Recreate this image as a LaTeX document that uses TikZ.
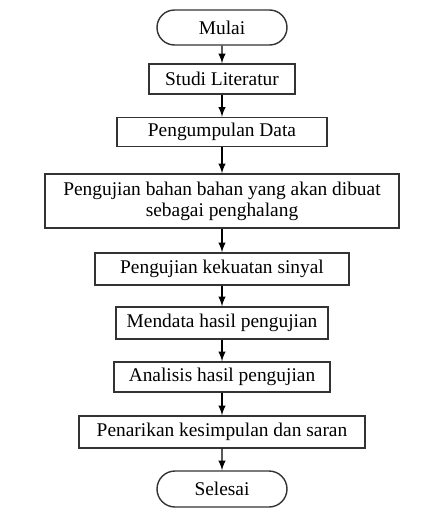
\documentclass[tikz,border=0pt]{standalone}
\usepackage{fontspec}
\setmainfont{Liberation Serif}
\usepackage{tikz}
\usetikzlibrary{arrows,shapes.misc}

\begin{document}
\begin{tikzpicture}[x=0.5pt,y=-0.5pt,
  every node/.style={font=\fontsize{9.7}{10.6}\selectfont, draw=black!80, line width=0.7pt, inner sep=0pt, align=center},
  terminal/.style={rounded rectangle, minimum width=65pt, minimum height=17.5pt},
  proses/.style={rectangle, minimum height=15pt},
  alur/.style={-latex, line width=0.7pt}]
\useasboundingbox (0,0) rectangle (446,525);
\node[terminal] (mulai) at (222,27.5) {Mulai};
\node[proses, minimum width=73pt] (studi) at (222,79) {Studi Literatur};
\node[proses, minimum width=105pt, minimum height=14.5pt] (data) at (222,132) {Pengumpulan Data};
\node[proses, minimum width=177pt, minimum height=27pt] (bahan) at (222,201) {Pengujian bahan bahan yang akan dibuat\\sebagai penghalang};
\node[proses, minimum width=127pt, minimum height=16pt] (sinyal) at (222,269) {Pengujian kekuatan sinyal};
\node[proses, minimum width=106pt, minimum height=16pt] (mendata) at (222,323) {Mendata hasil pengujian};
\node[proses, minimum width=108pt] (analisis) at (222,377) {Analisis hasil pengujian};
\node[proses, minimum width=143pt, minimum height=16pt] (simpulan) at (222,432) {Penarikan kesimpulan dan saran};
\node[terminal, minimum height=18pt] (selesai) at (222,489) {Selesai};
\draw[alur] (mulai) -- (studi);
\draw[alur] (studi) -- (data);
\draw[alur] (data) -- (bahan);
\draw[alur] (bahan) -- (sinyal);
\draw[alur] (sinyal) -- (mendata);
\draw[alur] (mendata) -- (analisis);
\draw[alur] (analisis) -- (simpulan);
\draw[alur] (simpulan) -- (selesai);
\end{tikzpicture}
\end{document}
